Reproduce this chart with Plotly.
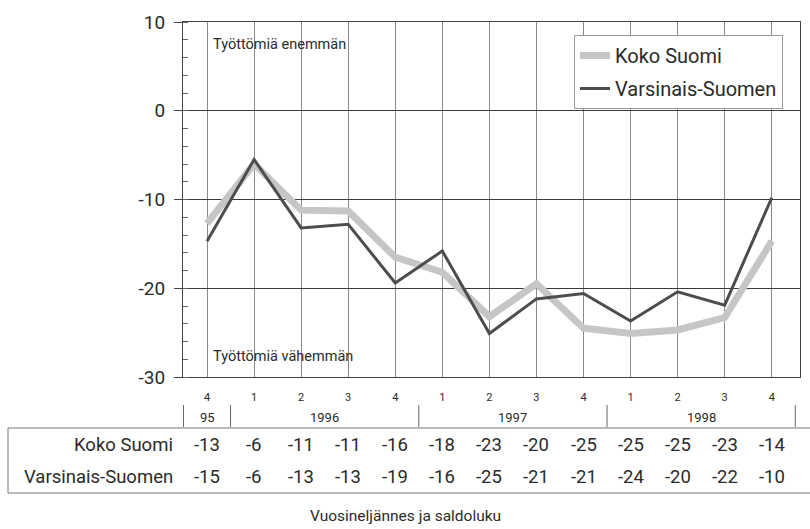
import plotly.graph_objects as go

FIG_W, FIG_H = 810, 529
M_L, M_R, M_T, M_B = 183, 10, 22, 152

quarters = ['4', '1', '2', '3', '4', '1', '2', '3', '4', '1', '2', '3', '4']
year_labels = ['95', '1996', '1997', '1998']
year_counts = [1, 4, 4, 4]
y_ticks = [10, 0, -10, -20, -30]

# plotted (unrounded) balance figures
koko_line = [-12.7, -6.0, -11.2, -11.3, -16.5, -18.2, -23.2, -19.5, -24.5, -25.1, -24.7, -23.3, -14.7]
vs_line = [-14.7, -5.5, -13.2, -12.8, -19.4, -15.8, -25.1, -21.2, -20.6, -23.7, -20.4, -21.9, -9.8]

# rounded values in the table below the chart
koko_table = [-13, -6, -11, -11, -16, -18, -23, -20, -25, -25, -25, -23, -14]
vs_table = [-15, -6, -13, -13, -19, -16, -25, -21, -21, -24, -20, -22, -10]

FONT = 'Roboto'
TXT = '#2b2b2b'
PLOT_H = FIG_H - M_T - M_B
PLOT_W = FIG_W - M_L - M_R


def py(px_y):
	# pixel row -> paper y
	return (FIG_H - M_B - px_y) / PLOT_H


def px(px_x):
	return (px_x - M_L) / PLOT_W


x = list(range(len(quarters)))

fig = go.Figure()
fig.add_trace(go.Scatter(
	x=x, y=koko_line, mode='lines', name='Koko Suomi', legendgroup='a',
	line=dict(color='#c6c6c6', width=7)
))
fig.add_trace(go.Scatter(
	x=x, y=vs_line, mode='lines', name='Varsinais-Suomen', legendgroup='b',
	line=dict(color='#4d4d4d', width=3)
))

annotations = [
	dict(text='Työttömiä enemmän', x=px(211), y=py(44), xref='paper', yref='paper',
		xanchor='left', yanchor='middle', showarrow=False, font=dict(size=14.5, color=TXT)),
	dict(text='Työttömiä vähemmän', x=px(211), y=py(356), xref='paper', yref='paper',
		xanchor='left', yanchor='middle', showarrow=False, font=dict(size=14.5, color=TXT)),
	dict(text='Vuosineljännes ja saldoluku', x=px(405), y=py(516), xref='paper', yref='paper',
		xanchor='center', yanchor='middle', showarrow=False, font=dict(size=15.5, color=TXT)),
	dict(text='Koko Suomi', x=px(175), y=py(445), xref='paper', yref='paper',
		xanchor='right', yanchor='middle', showarrow=False, font=dict(size=18.5, color=TXT)),
	dict(text='Varsinais-Suomen', x=px(175), y=py(477), xref='paper', yref='paper',
		xanchor='right', yanchor='middle', showarrow=False, font=dict(size=18.5, color=TXT)),
]
shapes = []

# year row with separators
start = 0
for lab, n in zip(year_labels, year_counts):
	annotations.append(dict(text=lab, x=start + (n - 1) / 2, y=py(417), xref='x', yref='paper',
		xanchor='center', yanchor='middle', showarrow=False, font=dict(size=13, color=TXT)))
	shapes.append(dict(type='line', xref='x', yref='paper', x0=start - 0.5, x1=start - 0.5,
		y0=py(405), y1=py(427), line=dict(color='#666', width=1)))
	start += n
shapes.append(dict(type='line', xref='x', yref='paper', x0=start - 0.5, x1=start - 0.5,
	y0=py(405), y1=py(427), line=dict(color='#666', width=1)))

# table values
for i in x:
	annotations.append(dict(text=str(koko_table[i]), x=i, y=py(445), xref='x', yref='paper',
		xanchor='center', yanchor='middle', showarrow=False, font=dict(size=18.5, color=TXT)))
	annotations.append(dict(text=str(vs_table[i]), x=i, y=py(477), xref='x', yref='paper',
		xanchor='center', yanchor='middle', showarrow=False, font=dict(size=18.5, color=TXT)))

# table frame
shapes.append(dict(type='rect', xref='paper', yref='paper', x0=px(8), x1=px(815),
	y0=py(493), y1=py(428), line=dict(color='#777', width=1)))

fig.update_layout(
	width=FIG_W, height=FIG_H,
	margin=dict(l=M_L, r=M_R, t=M_T, b=M_B, autoexpand=False),
	paper_bgcolor='white', plot_bgcolor='white',
	font=dict(family=FONT, color=TXT),
	showlegend=True,
	legend=dict(
		x=px(574), y=py(35), xanchor='left', yanchor='top',
		bgcolor='white', bordercolor='#999', borderwidth=1,
		font=dict(size=20, color=TXT), itemwidth=30,
		tracegroupgap=4,
	),
	annotations=annotations,
	shapes=shapes,
)
fig.update_xaxes(
	range=[-0.51, 12.6], tickvals=x, ticktext=quarters, automargin=False,
	showgrid=True, gridcolor='#8a8a8a', gridwidth=0.7,
	showline=True, linecolor='#444', linewidth=1, mirror=True,
	ticks='', tickfont=dict(size=11, color=TXT), zeroline=False,
	ticklabelstandoff=10,
)
fig.update_yaxes(
	range=[-30, 10], tickvals=y_ticks, ticktext=[str(v) for v in y_ticks], automargin=False,
	showgrid=True, gridcolor='#3a3a3a', gridwidth=1.2,
	showline=True, linecolor='#444', linewidth=1, mirror=True,
	ticks='outside', ticklen=8, tickcolor='#444',
	minor=dict(dtick=2, ticks='inside', ticklen=5, tickcolor='#666', showgrid=False),
	tickfont=dict(size=19, color=TXT), zeroline=False,
	ticklabelstandoff=5,
)

# drop the browser's default body margin so the figure sits at the page origin
fig.write_html("out.html", config=dict(displayModeBar=False),
	post_script="document.body.style.margin='0';")
